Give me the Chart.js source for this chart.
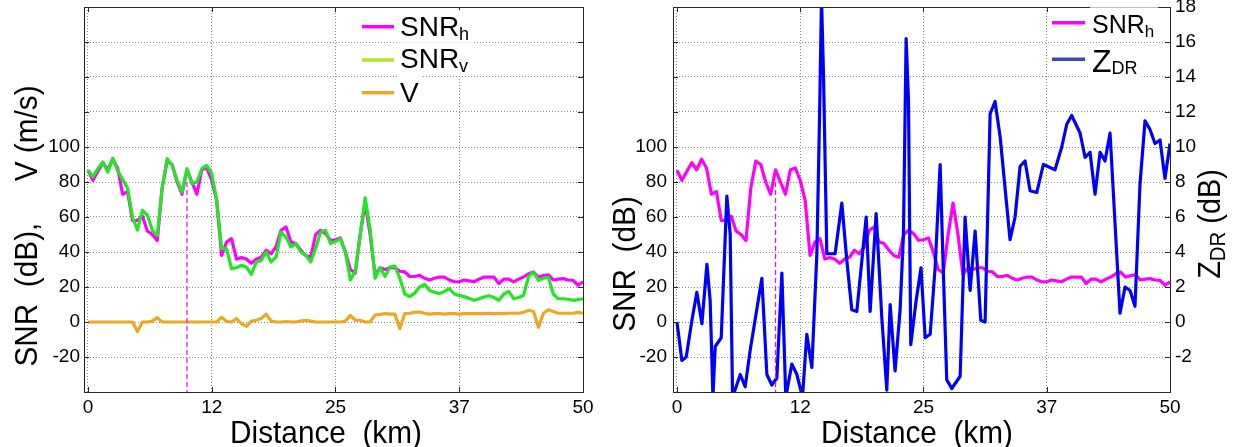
<!DOCTYPE html>
<html>
<head>
<meta charset="utf-8">
<script src="https://cdn.jsdelivr.net/npm/chart.js@4.4.0/dist/chart.umd.min.js"></script>
<style>
  html, body { margin: 0; padding: 0; background: #fff; }
  #wrap { position: relative; width: 1243px; height: 447px; overflow: hidden; }
  .box { position: absolute; top: 0; height: 447px; }
  #boxL { left: 0; width: 600px; }
  #boxR { left: 600px; width: 643px; }
</style>
</head>
<body>
<div id="wrap">
  <div class="box" id="boxL"><canvas id="chartL" width="600" height="447"></canvas></div>
  <div class="box" id="boxR"><canvas id="chartR" width="643" height="447"></canvas></div>
</div>
<script>
// distancia (km) das amostras de SNR e V
const distance = [0, 0.5, 1, 1.5, 2, 2.5, 3, 3.5, 4, 4.5, 5, 5.5, 6, 6.5, 7, 7.5, 8, 8.5, 9, 9.5,
  10, 10.5, 11, 11.5, 12, 12.5, 13, 13.5, 14, 14.5, 15, 15.5, 16, 16.5, 17, 17.5, 18, 18.5, 19, 19.5,
  20, 20.5, 21, 21.5, 22, 22.5, 23, 23.5, 24, 24.5, 25, 25.5, 26, 26.5, 27, 27.5, 28, 28.5, 29, 29.5,
  30, 30.5, 31, 31.5, 32, 32.5, 33, 33.5, 34, 34.5, 35, 35.5, 36, 36.5, 37, 37.5, 38, 38.5, 39, 39.5,
  40, 40.5, 41, 41.5, 42, 42.5, 43, 43.5, 44, 44.5, 45, 45.5, 46, 46.5, 47, 47.5, 48, 48.5, 49, 49.5, 50];

const snrH = [86.7, 81, 86, 91, 87, 93, 88, 73, 74.5, 58,
  58, 60.5, 52, 50, 46.5, 77, 92, 90, 80, 73,
  87, 80, 73, 87, 88, 81, 69.5, 38, 45.7, 47.6,
  36, 36.8, 36, 33.5, 36, 37, 41, 39, 43, 52.4,
  54.3, 45.7, 44.8, 41, 38, 37, 50, 52.4, 50.5, 46.7,
  47, 48, 40, 30, 28, 50, 68, 50, 27, 31,
  30, 31, 31, 29, 28.6, 26, 26, 26.7, 25, 24,
  25, 25.7, 25.7, 24, 23, 23, 24, 23.5, 23, 24.5,
  25.7, 25.7, 25.7, 22, 24.5, 24.5, 22.9, 24.5, 25.7, 27.5,
  28.5, 25.7, 26.5, 27, 24, 24.5, 24.8, 24, 23.8, 21,
  23];

const snrV = [86.7, 83, 87.6, 91.4, 85.7, 93.5, 86.5, 81.5, 76.5, 60,
  52.5, 63.8, 61, 52.4, 49.5, 77, 93.3, 89.5, 81, 74.3,
  87.6, 79, 80, 87.6, 89.5, 84.8, 69.5, 42, 41.9, 30.5,
  31, 32.4, 31.4, 27.2, 34.3, 35.2, 40, 34.3, 37.1, 51.4,
  48.5, 42.9, 44.8, 40, 38.1, 34.3, 42, 51.4, 52.4, 44.8,
  46, 47.6, 40, 24, 29, 50, 71, 53, 25, 31,
  26, 31.4, 32, 25, 16, 14.5, 16.5, 20, 21.5, 18,
  17, 16.2, 17.5, 19, 16, 15.2, 14.5, 13.5, 12.4, 13.3,
  14.3, 15, 14, 12.4, 16, 17.5, 13.3, 14, 15.2, 26,
  28.6, 23.8, 25, 25.5, 16, 13.3, 13.3, 13, 12.4, 12.8,
  13.3];

const velocity = [0, 0, 0, 0, 0, 0, 0, 0, 0, 0,
  -5.5, 0, 0, 0.5, 2.5, 0, 0, 0, 0, 0,
  0, 0, 0, 0, 0, 0, 0, 2.8, 0.3, 0,
  2, -1, -2.5, 0.5, 1, 2, 4.5, 0.5, 0, 0,
  0.3, 0, 0, 0.5, 1, 0.5, 0, 0, 0, 0,
  0, 0, 0.5, 3.8, 1, 1, 0, 0, 4, 4.4,
  4.8, 4.5, 4.5, -3.8, 4.8, 5, 5.5, 5.7, 5, 4.5,
  4.8, 4.8, 4.5, 4.8, 4.8, 4.5, 4.8, 4.8, 4.8, 4.8,
  4.8, 5, 4.8, 4.8, 4.8, 5, 5, 5, 5.5, 6.7,
  6, -3, 5, 7, 6, 5, 5, 5, 5, 5.5,
  5];

// ZDR tem amostras proprias (vertices)
const zdrKm = [0, 0.5, 0.94, 1.52, 2.02, 2.53, 3.04, 3.37, 3.65, 3.88, 4.49, 5.06, 5.4, 5.64, 6.42, 6.92, 7.43,
  8.61, 9.12, 9.62, 10.13, 10.64, 11.04, 11.65, 12.16, 12.73, 13.17, 13.68, 14.19, 14.46, 14.66, 14.86, 15.2,
  16.04, 16.72, 17.23, 17.73, 18.24, 19.19, 19.59, 20.2, 20.77, 21.28, 21.62, 22.12, 22.63, 22.97, 23.24, 23.48,
  23.71, 24.25, 24.75, 25.17, 25.68, 26.18, 26.69, 27.03, 27.36, 27.87, 28.72, 29.22, 29.73, 30.24, 30.81, 31.25,
  31.76, 32.26, 32.77, 33.78, 34.29, 34.8, 35.3, 35.81, 36.49, 37.16, 38.34, 39.02, 39.53, 40.03, 40.88, 41.39,
  41.89, 42.4, 42.91, 43.41, 43.92, 44.93, 45.44, 45.95, 46.45, 46.96, 47.47, 47.97, 48.48, 48.99, 49.49, 50];
const zdrVal = [0, -2.2, -2.0, 0.1, 1.7, -0.1, 3.3, 1.2, -4.3, -1.4, -0.9, 7.2, 5.0, -4.3, -3.0, -3.7, -1.6,
  2.5, -3.0, -3.6, -3.2, 2.8, -4.3, -2.4, -3.0, -4.3, -0.7, -2.6, 3.9, 11.7, 18.5, 14.2, 3.9,
  3.9, 6.8, 3.5, 0.7, 0.6, 6.0, 0.6, 6.2, 0.3, -3.9, 1.0, -2.8, 0.7, 5.0, 16.2, 12.7,
  -1.3, 1.2, 3.1, -0.9, -0.7, 3.1, 9.0, 2.6, -3.3, -3.8, -3.1, 6.0, 1.8, 5.2, 0.1, 0.0,
  11.9, 12.6, 10.6, 4.7, 6.0, 8.9, 9.2, 7.5, 7.4, 9.0, 8.7, 10.0, 11.3, 11.8, 10.8, 9.4,
  9.7, 7.3, 9.7, 9.2, 10.8, 0.5, 2.0, 1.8, 0.9, 7.9, 11.5, 11.0, 10.2, 10.4, 8.2, 10.2];

// marcador vertical tracejado (km 10)
const markerKm = [10, 10];
const markerVal = [80, -40];

const xTickVals = [0, 12.5, 25, 37.5, 50];

const FONT = '"Liberation Sans", Arial, sans-serif';
Chart.defaults.font.family = FONT;
Chart.defaults.color = '#000';

const pts = (xs, ys) => xs.map((x, i) => ({ x: x, y: ys[i] }));

function lineSet(label, data, color, width, order, yAxisID) {
  return {
    label: label, data: data, borderColor: color, backgroundColor: color,
    borderWidth: width, pointRadius: 0, tension: 0, order: order,
    borderJoinStyle: 'round', yAxisID: yAxisID || 'y'
  };
}

function markerSet() {
  const ds = lineSet('marker', pts(markerKm, markerVal), '#ff00ff', 1.2, 0);
  ds.borderDash = [5, 3];
  return ds;
}

const gridStyle = { color: '#8a8a8a', lineWidth: 1, drawTicks: false };
const borderStyle = { display: false, dash: [1, 2] };

function xScale() {
  return {
    type: 'linear', min: -0.4, max: 50,
    afterBuildTicks: s => { s.ticks = xTickVals.map(v => ({ value: v })); },
    ticks: { callback: v => String(Math.floor(v)), font: { size: 19 }, padding: 4, maxRotation: 0, autoSkip: false },
    grid: gridStyle, border: borderStyle,
    afterFit: s => { s.height = 55; s.paddingLeft = 0; s.paddingRight = 0; }
  };
}

function ySnrScale(width, pad) {
  return {
    type: 'linear', position: 'left', min: -40, max: 180,
    ticks: { stepSize: 20, font: { size: 19 }, padding: pad, autoSkip: false,
      callback: v => (v >= -20 && v <= 100) ? String(v) : '' },
    grid: gridStyle, border: borderStyle,
    afterFit: s => { s.width = width; s.paddingTop = 0; s.paddingBottom = 0; }
  };
}

// texto com subscritos, opcionalmente girado e comprimido
function drawRich(ctx, parts, x, y, angle, squeeze) {
  ctx.save();
  ctx.translate(x, y);
  ctx.rotate(angle);
  ctx.scale(squeeze, 1);
  ctx.fillStyle = '#000';
  ctx.textBaseline = 'alphabetic';
  ctx.textAlign = 'left';
  let total = 0;
  parts.forEach(p => { ctx.font = p.size + 'px ' + FONT; p.w = ctx.measureText(p.text).width; total += p.w; });
  let cx = -total / 2;
  parts.forEach(p => { ctx.font = p.size + 'px ' + FONT; ctx.fillText(p.text, cx, p.dy || 0); cx += p.w; });
  ctx.restore();
}

function drawLegend(ctx, items, x0, x1, tx) {
  ctx.save();
  items.forEach(it => {
    let w = 0;
    it.parts.forEach(p => { ctx.font = p.size + 'px ' + FONT; p.w = ctx.measureText(p.text).width; w += p.w; });
    ctx.fillStyle = '#fff';
    ctx.fillRect(tx - 2, it.base - 26, Math.min(w + 6, it.maxW || 999), 32);
    ctx.strokeStyle = it.color; ctx.lineWidth = 3.5;
    ctx.beginPath(); ctx.moveTo(x0, it.y); ctx.lineTo(x1, it.y); ctx.stroke();
    ctx.fillStyle = '#000'; ctx.textBaseline = 'alphabetic'; ctx.textAlign = 'left';
    let cx = tx;
    it.parts.forEach(p => { ctx.font = p.size + 'px ' + FONT; ctx.fillText(p.text, cx, it.base + (p.dy || 0)); cx += p.w; });
  });
  ctx.restore();
}

// moldura com marcas de escala para dentro (estilo MATLAB)
function drawFrame(chart) {
  const { ctx, chartArea: a, scales } = chart;
  const tl = 5;
  ctx.save();
  ctx.strokeStyle = '#262626';
  ctx.lineWidth = 1;
  ctx.beginPath();
  scales.x.ticks.forEach(t => {
    const px = Math.round(scales.x.getPixelForValue(t.value)) + 0.5;
    ctx.moveTo(px, a.bottom); ctx.lineTo(px, a.bottom - tl);
    ctx.moveTo(px, a.top); ctx.lineTo(px, a.top + tl);
  });
  scales.y.ticks.forEach(t => {
    const py = Math.round(scales.y.getPixelForValue(t.value)) + 0.5;
    ctx.moveTo(a.left, py); ctx.lineTo(a.left + tl, py);
    ctx.moveTo(a.right, py); ctx.lineTo(a.right - tl, py);
  });
  ctx.stroke();
  ctx.strokeRect(Math.round(a.left) + 0.5, Math.round(a.top) + 0.5, Math.round(a.width), Math.round(a.height));
  ctx.restore();
}

const SQ = 0.93;

// Grafico da esquerda: SNRh, SNRv e V
new Chart(document.getElementById('chartL'), {
  type: 'line',
  data: {
    datasets: [
      lineSet('SNRh', pts(distance, snrH), '#ff00ff', 3.2, 3),
      lineSet('SNRv', pts(distance, snrV), '#22e622', 3.2, 2),
      lineSet('V', pts(distance, velocity), '#eaa823', 3.2, 1),
      markerSet()
    ]
  },
  options: {
    responsive: false, animation: false,
    layout: { padding: { top: 7, right: 17, left: 0, bottom: 0 } },
    plugins: { legend: { display: false }, tooltip: { enabled: false } },
    scales: { x: xScale(), y: ySnrScale(84, 4) }
  },
  plugins: [{
    id: 'decorL',
    afterDraw(chart) {
      const ctx = chart.ctx;
      drawFrame(chart);
      drawLegend(ctx, [
        { color: '#ff00ff', y: 26.7, base: 36, parts: [{ text: 'SNR', size: 28 }, { text: 'h', size: 18, dy: 4 }] },
        { color: '#b4e628', y: 60, base: 68.3, parts: [{ text: 'SNR', size: 28 }, { text: 'v', size: 18, dy: 4 }] },
        { color: '#eaa823', y: 92.7, base: 101.7, parts: [{ text: 'V', size: 28 }] }
      ], 362, 394, 400);
      drawRich(ctx, [{ text: 'SNR  (dB),     V (m/s)', size: 32 }], 37, 226, -Math.PI / 2, SQ);
      drawRich(ctx, [{ text: 'Distance  (km)', size: 32 }], 326, 443, 0, SQ);
    }
  }]
});

// Grafico da direita: SNRh e ZDR (eixo direito)
new Chart(document.getElementById('chartR'), {
  type: 'line',
  data: {
    datasets: [
      lineSet('SNRh', pts(distance, snrH), '#ff00ff', 3.2, 2),
      lineSet('ZDR', pts(zdrKm, zdrVal), '#0000ff', 3.2, 1, 'y1'),
      markerSet()
    ]
  },
  options: {
    responsive: false, animation: false,
    layout: { padding: { top: 7, right: 0, left: 0, bottom: 0 } },
    plugins: { legend: { display: false }, tooltip: { enabled: false } },
    scales: {
      x: xScale(),
      y: ySnrScale(73, 6),
      y1: {
        type: 'linear', position: 'right', min: -4, max: 18,
        ticks: { stepSize: 2, font: { size: 19 }, padding: 5, autoSkip: false,
          callback: v => v >= -2 ? String(v) : '' },
        grid: { display: false, drawTicks: false }, border: { display: false },
        afterFit: s => { s.width = 73; s.paddingTop = 0; s.paddingBottom = 0; }
      }
    }
  },
  plugins: [{
    id: 'decorR',
    afterDraw(chart) {
      const ctx = chart.ctx;
      drawFrame(chart);
      drawLegend(ctx, [
        { color: '#ff00ff', y: 22.7, base: 33.3, maxW: 80, parts: [{ text: 'SNR', size: 25 }, { text: 'h', size: 17, dy: 4 }] },
        { color: '#3c46c8', y: 59.3, base: 71.7, parts: [{ text: 'Z', size: 32 }, { text: 'DR', size: 18, dy: 2 }] }
      ], 452, 485, 492);
      drawRich(ctx, [{ text: 'SNR  (dB)', size: 32 }], 35, 264, -Math.PI / 2, SQ);
      drawRich(ctx, [{ text: 'Z', size: 31 }, { text: 'DR', size: 22, dy: 5 }, { text: ' (dB)', size: 31 }], 620, 224, -Math.PI / 2, SQ);
      drawRich(ctx, [{ text: 'Distance  (km)', size: 32 }], 317, 443, 0, SQ);
    }
  }]
});
</script>
</body>
</html>
